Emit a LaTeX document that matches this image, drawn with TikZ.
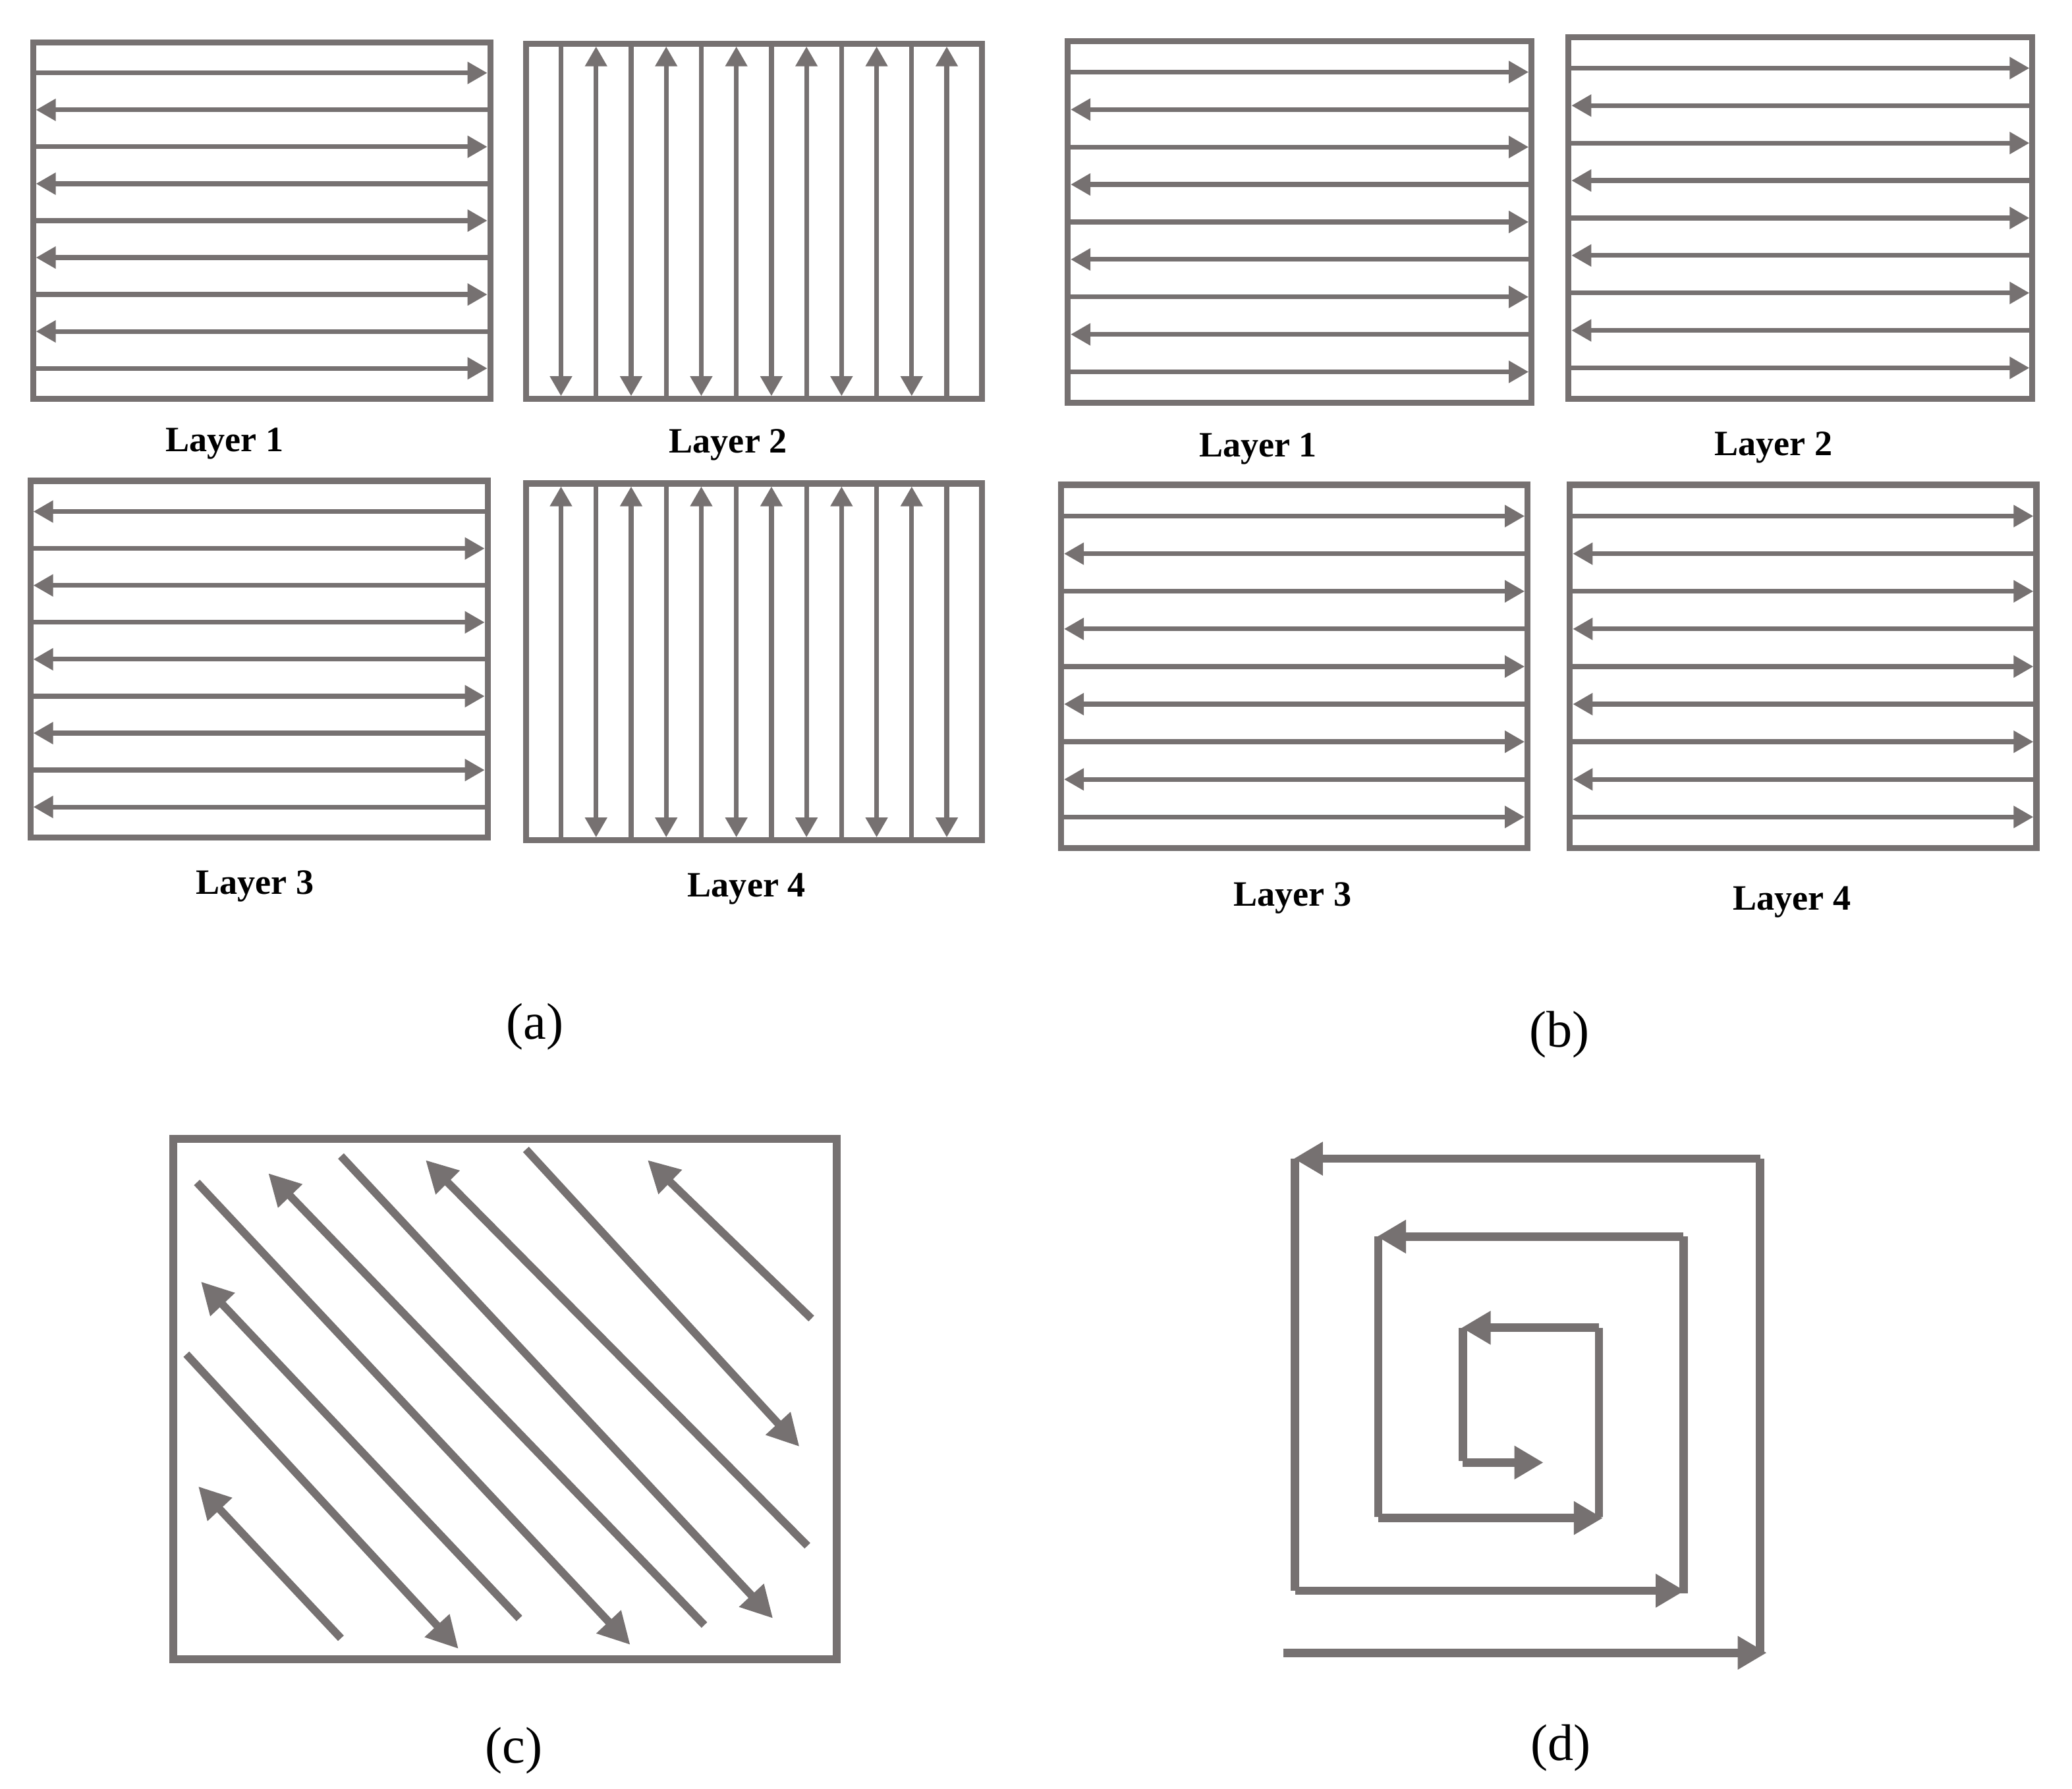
\documentclass[tikz,border=0pt]{standalone}
\usepackage{fontspec}
\setmainfont{Liberation Serif}
\usetikzlibrary{arrows.meta}
\definecolor{pathgray}{RGB}{118,113,113}
\tikzset{
  frame/.style={draw=pathgray, line width=2.3pt},
  fline/.style={draw=pathgray, line width=1.8pt, -{Triangle[length=7.5pt,width=8pt]}, shorten >=1.1pt},
  cframe/.style={draw=pathgray, line width=3pt},
  cline/.style={draw=pathgray, line width=3pt, -{Triangle[length=12pt,width=12pt]}},
  dseg/.style={draw=pathgray, line width=3.2pt, line cap=square},
  darr/.style={draw=pathgray, line width=3.2pt, -{Triangle[length=11pt,width=12pt]}},
  lab/.style={font=\bfseries\fontsize{13.5}{16}\selectfont, text=black, inner sep=0pt},
  capt/.style={font=\fontsize{19.5}{23}\selectfont, text=black, inner sep=0pt},
}
% horizontal raster layer: left, top, right, bottom, start (0 = right, 1 = left)
\newcommand{\hlayer}[5]{%
  \draw[frame] (#1,#2) rectangle (#3,#4);
  \foreach \k in {0,...,8}{%
    \pgfmathsetmacro\yy{#2+(0.83+\k)*(#4-#2)/9.66}%
    \pgfmathtruncatemacro\dd{mod(\k+#5,2)}%
    \ifnum\dd=0
      \draw[fline] (#1,\yy) -- (#3,\yy);
    \else
      \draw[fline] (#3,\yy) -- (#1,\yy);
    \fi
  }%
}
% vertical raster layer: left, top, right, bottom, start (0 = down, 1 = up)
\newcommand{\vlayer}[5]{%
  \draw[frame] (#1,#2) rectangle (#3,#4);
  \foreach \k in {0,...,11}{%
    \pgfmathsetmacro\xx{#1+(\k+1)*(#3-#1)/13}%
    \pgfmathtruncatemacro\dd{mod(\k+#5,2)}%
    \ifnum\dd=0
      \draw[fline] (\xx,#2) -- (\xx,#4);
    \else
      \draw[fline] (\xx,#4) -- (\xx,#2);
    \fi
  }%
}
\begin{document}
\begin{tikzpicture}[x=0.5pt,y=-0.5pt]
\useasboundingbox (0,0) rectangle (1568,1354);

% ---------- (a) ----------
\hlayer{25}{32}{371}{302}{0}
\vlayer{398}{33}{743}{302}{0}
\hlayer{23}{364}{369}{634}{1}
\vlayer{398}{366}{743}{636}{1}
\node[lab, anchor=base] (la1) at (170,342) {Layer 1};
\node[lab, anchor=base] (la2) at (551,343) {Layer 2};
\node[lab, anchor=base] (la3) at (193,677) {Layer 3};
\node[lab, anchor=base] (la4) at (565,679) {Layer 4};
\node[capt] (capa) at (405,777) {(a)};

% ---------- (b) ----------
\hlayer{808}{31}{1159}{305}{0}
\hlayer{1187}{28}{1538}{302}{0}
\hlayer{803}{367}{1156}{642}{0}
\hlayer{1188}{367}{1541}{642}{0}
\node[lab, anchor=base] (lb1) at (952,346) {Layer 1};
\node[lab, anchor=base] (lb2) at (1342,345) {Layer 2};
\node[lab, anchor=base] (lb3) at (978,686) {Layer 3};
\node[lab, anchor=base] (lb4) at (1356,689) {Layer 4};
\node[capt] (capb) at (1180,783) {(b)};

% ---------- (c) ----------
\draw[cframe] (131,862) rectangle (633,1256);
\draw[cline] (258,1240) -- (150,1125);
\draw[cline] (141,1025) -- (347,1248);
\draw[cline] (393,1225) -- (152,970);
\draw[cline] (149,895) -- (477,1245);
\draw[cline] (533,1230) -- (203,888);
\draw[cline] (258,875) -- (585,1225);
\draw[cline] (611,1170) -- (322,878);
\draw[cline] (398,870) -- (605,1095);
\draw[cline] (614,998) -- (490,878);
\node[capt] (capc) at (389,1325) {(c)};

% ---------- (d) ----------
\draw[darr] (971,1251) -- (1337,1251);
\draw[dseg] (1332,1250) -- (1332,877);
\draw[darr] (1332,877) -- (979,877);
\draw[dseg] (980,877) -- (980,1204);
\draw[darr] (980,1204) -- (1275,1204);
\draw[dseg] (1274,1206) -- (1274,936);
\draw[darr] (1274,936) -- (1042,936);
\draw[dseg] (1043,936) -- (1043,1148);
\draw[darr] (1043,1149) -- (1213,1149);
\draw[dseg] (1210,1148) -- (1210,1005);
\draw[darr] (1210,1005) -- (1106,1005);
\draw[dseg] (1107,1005) -- (1107,1106);
\draw[darr] (1107,1107) -- (1168,1107);
\node[capt] (capd) at (1181,1323) {(d)};
\end{tikzpicture}
\end{document}
